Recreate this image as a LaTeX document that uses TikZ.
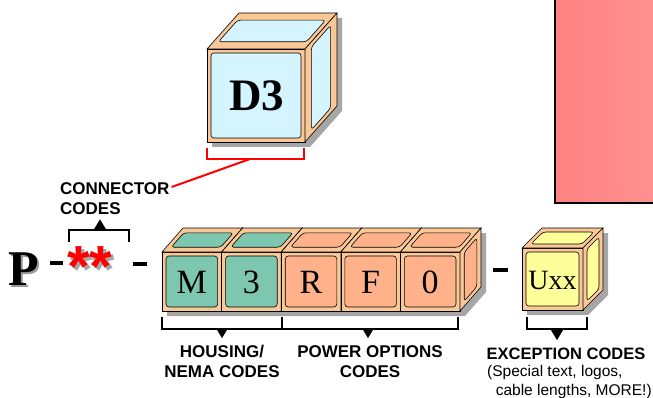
\documentclass[tikz,border=0pt]{standalone}
\usepackage{fontspec}
\setmainfont{Liberation Serif}
\setsansfont{Liberation Sans}
\usetikzlibrary{arrows.meta}

\definecolor{peach}{RGB}{250,200,150}
\definecolor{housegreen}{RGB}{125,198,176}
\definecolor{powerorange}{RGB}{255,178,138}
\definecolor{connectcyan}{RGB}{212,244,255}
\definecolor{exceptyellow}{RGB}{255,255,153}
\definecolor{notepink}{RGB}{255,130,130}
\definecolor{notepinkr}{RGB}{255,145,145}

\tikzset{
  body/.style={fill=peach,draw=black,line width=0.6pt},
  panel/.style={draw=black,line width=0.6pt,rounded corners=3pt},
  cubeshadow/.style={fill=black!35},
  blocktxt/.style={font=\fontsize{34}{34}\selectfont},
  labeltxt/.style={font=\sffamily\bfseries\fontsize{17}{20}\selectfont,inner sep=0pt},
  bracket/.style={line width=2.4pt},
  pointer/.style={-{Triangle[length=10pt,width=12pt]},line width=0.1pt},
}

% cube: x, y (top left of front), w, h, dx, dy (depth), panel colour
\newcommand\codecube[7]{%
  \fill[cubeshadow] ({#1+5},{#2+#4+5}) -- ({#1+5},{#2+5}) -- ({#1+#5+5},{#2+(#6)+5})
    -- ({#1+#3+#5+5},{#2+(#6)+5}) -- ({#1+#3+#5+5},{#2+#4+(#6)+5}) -- ({#1+#3+5},{#2+#4+5}) -- cycle;
  \filldraw[body] (#1,#2) rectangle ({#1+#3},{#2+#4});
  \filldraw[body] (#1,#2) -- ({#1+#5},{#2+(#6)}) -- ({#1+#3+#5},{#2+(#6)}) -- ({#1+#3},#2) -- cycle;
  \filldraw[body] ({#1+#3},#2) -- ({#1+#3+#5},{#2+(#6)}) -- ({#1+#3+#5},{#2+#4+(#6)}) -- ({#1+#3},{#2+#4}) -- cycle;
  \filldraw[panel,fill=#7] ({#1+4},{#2+4}) rectangle ({#1+#3-4},{#2+#4-4});
  \filldraw[panel,fill=#7] ({#1+0.2*#5+5},{#2+0.2*(#6)}) -- ({#1+0.8*#5+5},{#2+0.8*(#6)})
    -- ({#1+#3+0.8*#5-5},{#2+0.8*(#6)}) -- ({#1+#3+0.2*#5-5},{#2+0.2*(#6)}) -- cycle;
  \filldraw[panel,fill=#7] ({#1+#3+0.2*#5},{#2+0.2*(#6)+5}) -- ({#1+#3+0.8*#5},{#2+0.8*(#6)+5})
    -- ({#1+#3+0.8*#5},{#2+#4+0.8*(#6)-5}) -- ({#1+#3+0.2*#5},{#2+#4+0.2*(#6)-5}) -- cycle;
}

\begin{document}
\begin{tikzpicture}[x=1pt,y=-1pt]
        \useasboundingbox (0,0) rectangle (653,398);

        %NOTE BOX
        \begin{scope}
        \clip (0,0) rectangle (653,398);
        \shade[left color=notepink,right color=notepinkr] (555,-5) rectangle (660,203);
        \draw[line width=2.6pt] (555,-5) |- (660,203);
        \end{scope}

        %CONNECTOR CUBE
        \codecube{207}{49}{98}{93}{32}{-36}{connectcyan}
        \node[font=\bfseries\fontsize{45}{45}\selectfont] (d3) at (257,96) {D3};

        %PART NUMBER
        \node[text=black!40,font=\bfseries\fontsize{50}{50}\selectfont] at (26,271) {P};
        \node[font=\bfseries\fontsize{50}{50}\selectfont] (p) at (24,269) {P};
        \fill (50,261) rectangle (63,265);
        \node[text=black!35,font=\sffamily\bfseries\fontsize{58}{58}\selectfont,anchor=base] at (93,289) {**};
        \node[text=red,font=\sffamily\bfseries\fontsize{58}{58}\selectfont,anchor=base] (ast) at (90,286) {**};
        \fill (133,262) rectangle (147,266);

        %CODE BLOCKS
        \codecube{162}{252}{59.6}{59}{21}{-24}{housegreen}
        \codecube{221.6}{252}{59.6}{59}{21}{-24}{housegreen}
        \codecube{281.2}{252}{59.6}{59}{21}{-24}{powerorange}
        \codecube{340.8}{252}{59.6}{59}{21}{-24}{powerorange}
        \codecube{400.4}{252}{59.6}{59}{21}{-24}{powerorange}
        \node[blocktxt] (m) at (191.8,282) {M};
        \node[blocktxt] (n3) at (251.4,282) {3};
        \node[blocktxt] (r) at (311,282) {R};
        \node[blocktxt] (f) at (370.6,282) {F};
        \node[blocktxt] (z) at (430.2,282) {0};

        %EXCEPTION CUBE
        \fill (493,268) rectangle (508,272);
        \codecube{522}{248}{61}{62}{20}{-20}{exceptyellow}
        \node[font=\fontsize{28}{28}\selectfont] (uxx) at (552.5,280) {Uxx};

        %LABELS
        \node[labeltxt,align=left,anchor=north west] (clab) at (60,182) {CONNECTOR\\CODES};
        \node[labeltxt,align=center,anchor=north] (hlab) at (222,345) {HOUSING/\\NEMA CODES};
        \node[labeltxt,align=center,anchor=north] (plab) at (370,345) {POWER OPTIONS\\CODES};
        \node[labeltxt,font=\sffamily\bfseries\fontsize{16.5}{20}\selectfont,anchor=north] (elab) at (566,348) {EXCEPTION CODES};
        \node[font=\sffamily\fontsize{15.5}{19}\selectfont,inner sep=0pt,align=left,anchor=north west] (enote) at (487,365) {(Special text, logos,\\\ \ cable lengths, MORE!)};

        %BRACKETS
        \draw[bracket,red] (207,148) |- (304,159) -- (304,148);
        \coordinate (dmid) at (250,159);
        \draw[red,line width=2pt] (dmid) -- ([shift={(2pt,-5pt)}]clab.north east);
        \draw[bracket] (69,242) |- (129,230) -- (129,242);
        \coordinate (cmid) at (100,230);
        \draw[pointer] (cmid) -- (cmid |- clab.south) [shorten >=5pt];
        \draw[bracket] (162,317) |- (458,329) -- (458,317);
        \draw[bracket] (282,317) -- (282,329);
        \coordinate (hmid) at (222,329);
        \coordinate (pmid) at (368,329);
        \draw[pointer,shorten >=7pt] (hmid) -- (hmid |- hlab.north);
        \draw[pointer,shorten >=7pt] (pmid) -- (pmid |- plab.north);
        \draw[bracket] (527,317) |- (587,329) -- (587,317);
        \coordinate (emid) at (557,329);
        \draw[pointer,shorten >=8pt] (emid) -- (emid |- elab.north);
\end{tikzpicture}
\end{document}
